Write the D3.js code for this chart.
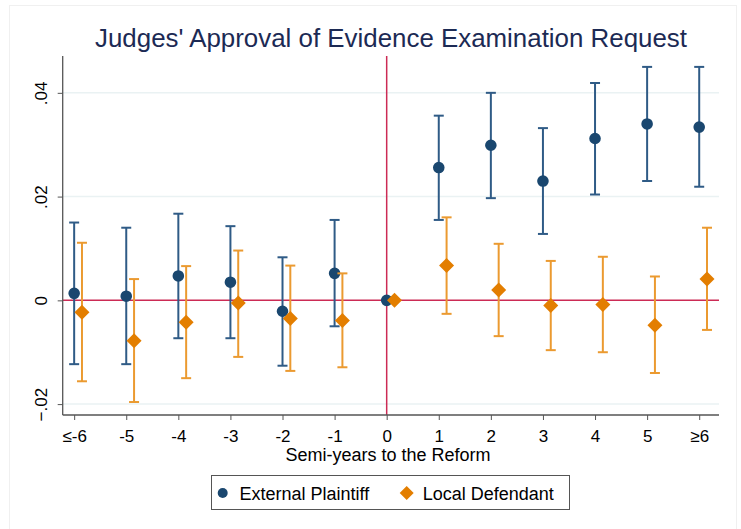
<!DOCTYPE html>
<html>
<head>
<meta charset="utf-8">
<script src="https://cdn.jsdelivr.net/npm/d3@7"></script>
<style>
  body { margin: 0; background: #fff; }
  text { font-family: "Liberation Sans", Arial, Helvetica, sans-serif; }
</style>
</head>
<body>
<svg id="chart" width="741" height="529"></svg>
<script>
// semi-years relative to the reform
const periods = [-6, -5, -4, -3, -2, -1, 0, 1, 2, 3, 4, 5, 6]
const periodLabels = ['≤-6', '-5', '-4', '-3', '-2', '-1', '0', '1', '2', '3', '4', '5', '≥6']

// External Plaintiff estimate + 95% CI
const plaintiff = [0.00135, 0.0008, 0.0047, 0.0035, -0.0021, 0.0052, 0, 0.0256, 0.0299, 0.0230, 0.0312, 0.0340, 0.0334]
const plaintiffLo = [-0.0123, -0.0123, -0.0073, -0.0073, -0.0126, -0.0050, null, 0.0155, 0.0197, 0.0128, 0.0204, 0.0230, 0.0219]
const plaintiffHi = [0.0150, 0.0140, 0.0167, 0.0143, 0.0083, 0.0155, null, 0.0356, 0.0400, 0.0332, 0.0419, 0.0450, 0.0450]

// Local Defendant estimate + 95% CI
const defendant = [-0.0023, -0.0078, -0.0042, -0.0005, -0.0035, -0.0039, 0, 0.0067, 0.0020, -0.0010, -0.0008, -0.0048, 0.0041]
const defendantLo = [-0.0156, -0.0196, -0.0150, -0.0109, -0.0136, -0.0129, null, -0.0026, -0.0069, -0.0096, -0.0100, -0.0140, -0.0057]
const defendantHi = [0.0111, 0.0041, 0.0066, 0.0096, 0.0067, 0.0052, null, 0.0160, 0.0109, 0.0076, 0.0084, 0.0046, 0.0140]

const yTicks = [-0.02, 0, 0.02, 0.04]

const blue = '#1a476f'
const blueCI = '#2f5b86'
const orange = '#e37e00'
const orangeCI = '#eb9a30'
const red = '#cc2b55'

const svg = d3.select('#chart')
const plotLeft = 62.7, plotRight = 719, plotTop = 56, plotBottom = 415

const x = d3.scaleLinear().domain([-6.22, 6.38]).range([plotLeft, plotRight])
const y = d3.scaleLinear().domain([-0.0221, 0.0471]).range([plotBottom, plotTop])
const offset = 0.15

// faint outer frame
svg.append('rect')
  .attr('x', 9.5).attr('y', 5.5).attr('width', 727).attr('height', 530)
  .attr('fill', 'none').attr('stroke', '#f0f0f0')

// grid
svg.append('g').selectAll('line')
  .data(yTicks.filter(d => d !== 0))
  .enter().append('line')
  .attr('x1', plotLeft).attr('x2', plotRight)
  .attr('y1', d => y(d)).attr('y2', d => y(d))
  .attr('stroke', '#eaf2f3').attr('stroke-width', 1.5)

// reference lines
svg.append('line')
  .attr('x1', plotLeft).attr('x2', plotRight).attr('y1', y(0)).attr('y2', y(0))
  .attr('stroke', red).attr('stroke-width', 1.5)
svg.append('line')
  .attr('x1', x(0)).attr('x2', x(0)).attr('y1', plotTop).attr('y2', plotBottom)
  .attr('stroke', red).attr('stroke-width', 1.5)

// axes
const yAxis = svg.append('g')
  .attr('transform', 'translate(' + plotLeft + ',0)')
  .call(d3.axisLeft(y).tickValues(yTicks).tickSize(5).tickFormat(d => d === 0 ? '0' : d3.format('.2f')(d).replace('0.', '.')))
yAxis.select('.domain').attr('d', 'M0,' + plotTop + 'V' + plotBottom).attr('stroke', '#555').attr('stroke-width', 1.3)
yAxis.selectAll('.tick line').attr('stroke', '#555')
yAxis.selectAll('.tick text')
  .attr('font-size', 17).attr('fill', '#000')
  .attr('x', 0).attr('y', 0).attr('dy', 0)
  .attr('text-anchor', 'middle')
  .attr('transform', 'translate(-15.5,0) rotate(-90)')

const xAxis = svg.append('g')
  .attr('transform', 'translate(0,' + plotBottom + ')')
  .call(d3.axisBottom(x).tickValues(periods).tickSize(5).tickFormat((d, i) => periodLabels[i]))
xAxis.select('.domain').attr('d', 'M' + plotLeft + ',0H' + plotRight).attr('stroke', '#555').attr('stroke-width', 1.3)
xAxis.selectAll('.tick line').attr('stroke', '#555')
xAxis.selectAll('.tick text').attr('font-size', 17).attr('fill', '#000').attr('dy', 0).attr('y', 26.5)
svg.selectAll('.domain').attr('fill', 'none')

svg.append('text')
  .attr('x', 388).attr('y', 461)
  .attr('text-anchor', 'middle').attr('font-size', 18)
  .text('Semi-years to the Reform')

// CI + markers
function drawSeries(est, lo, hi, dx, color, ciColor, shape) {
  const rows = periods.map((p, i) => ({ p: p + dx, est: est[i], lo: lo[i], hi: hi[i] }))
  const g = svg.append('g')
  const ci = rows.filter(r => r.lo !== null)
  g.selectAll('.ci').data(ci).enter().append('line')
    .attr('x1', d => x(d.p)).attr('x2', d => x(d.p))
    .attr('y1', d => y(d.lo)).attr('y2', d => y(d.hi))
    .attr('stroke', ciColor).attr('stroke-width', 2)
  ;['lo', 'hi'].forEach(k => {
    g.selectAll('.cap-' + k).data(ci).enter().append('line')
      .attr('x1', d => x(d.p) - 5).attr('x2', d => x(d.p) + 5)
      .attr('y1', d => y(d[k])).attr('y2', d => y(d[k]))
      .attr('stroke', ciColor).attr('stroke-width', 2)
  })
  g.selectAll('.pt').data(rows).enter().append('path')
    .attr('transform', d => 'translate(' + x(d.p) + ',' + y(d.est) + ')')
    .attr('d', shape)
    .attr('fill', color)
}

const circle = d3.symbol().type(d3.symbolCircle).size(Math.PI * 5.8 * 5.8)()
const diamond = 'M0,-7.5L7.5,0L0,7.5L-7.5,0Z'

drawSeries(plaintiff, plaintiffLo, plaintiffHi, 0, blue, blueCI, circle)
drawSeries(defendant, defendantLo, defendantHi, offset, orange, orangeCI, diamond)

// title
svg.append('text')
  .attr('x', 391).attr('y', 47)
  .attr('text-anchor', 'middle').attr('font-size', 25)
  .attr('fill', '#1c2a54')
  .attr('textLength', 592).attr('lengthAdjust', 'spacingAndGlyphs')
  .text("Judges' Approval of Evidence Examination Request")

// legend
const legend = svg.append('g')
legend.append('rect')
  .attr('x', 211.5).attr('y', 475.5).attr('width', 358).attr('height', 34)
  .attr('fill', '#fff').attr('stroke', '#555').attr('stroke-width', 1)
legend.append('path').attr('transform', 'translate(222.7,493)')
  .attr('d', d3.symbol().type(d3.symbolCircle).size(Math.PI * 5 * 5)()).attr('fill', blue)
legend.append('text').attr('x', 239.5).attr('y', 499.5).attr('font-size', 18).text('External Plaintiff')
legend.append('path').attr('transform', 'translate(406.7,493)')
  .attr('d', 'M0,-7L7,0L0,7L-7,0Z').attr('fill', orange)
legend.append('text').attr('x', 422.7).attr('y', 499.5).attr('font-size', 18).text('Local Defendant')
</script>
</body>
</html>
